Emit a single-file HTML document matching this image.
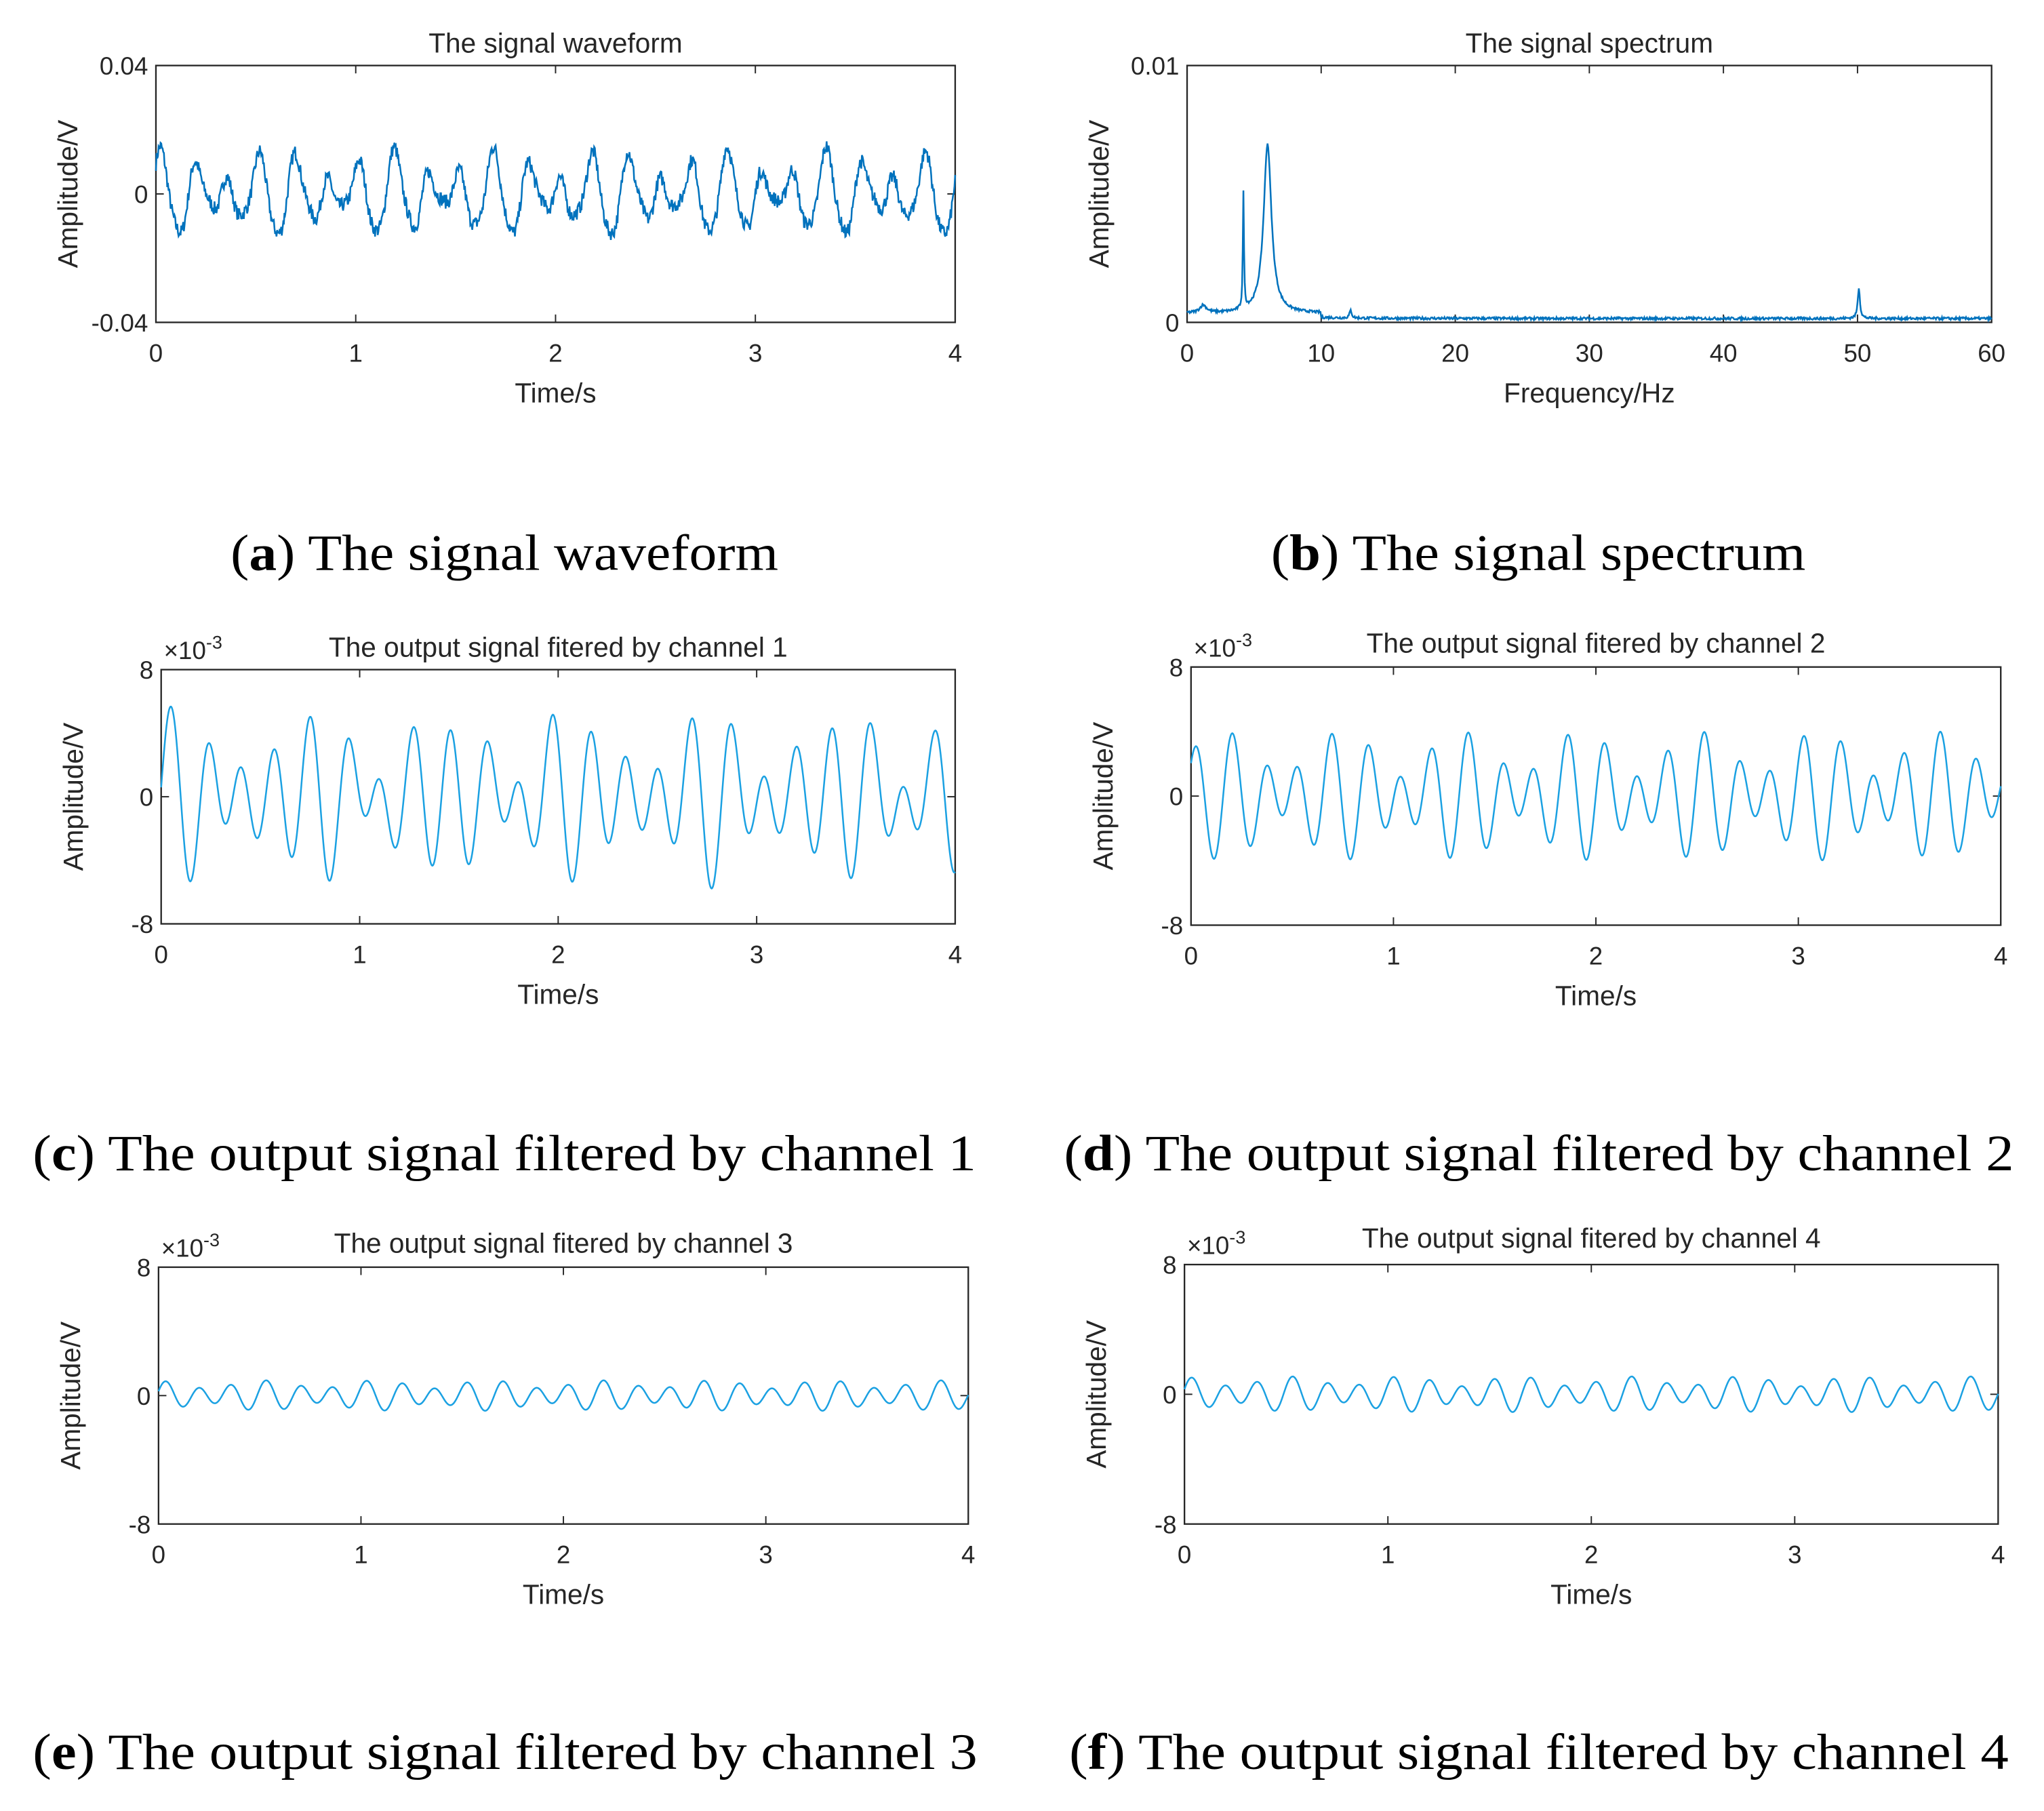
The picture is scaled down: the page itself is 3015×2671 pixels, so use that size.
<!DOCTYPE html>
<html><head><meta charset="utf-8"><style>
html,body{margin:0;padding:0;background:#fff;}
svg{display:block;}
.t{font-family:"Liberation Sans",sans-serif;fill:#262626;}
.c{font-family:"Liberation Serif",serif;fill:#000;font-size:39px;}
</style></head><body>
<svg id="s" width="3015" height="2671" viewBox="0 0 1560 1382" preserveAspectRatio="none" xmlns="http://www.w3.org/2000/svg">
<text class="c" x="176" y="435" textLength="418" lengthAdjust="spacingAndGlyphs">(<tspan font-weight="bold">a</tspan>) The signal waveform</text>
<text class="c" x="970" y="435" textLength="408" lengthAdjust="spacingAndGlyphs">(<tspan font-weight="bold">b</tspan>) The signal spectrum</text>
<text class="c" x="25" y="893" textLength="720" lengthAdjust="spacingAndGlyphs">(<tspan font-weight="bold">c</tspan>) The output signal filtered by channel 1</text>
<text class="c" x="812" y="893" textLength="725" lengthAdjust="spacingAndGlyphs">(<tspan font-weight="bold">d</tspan>) The output signal filtered by channel 2</text>
<text class="c" x="25" y="1350" textLength="721" lengthAdjust="spacingAndGlyphs">(<tspan font-weight="bold">e</tspan>) The output signal filtered by channel 3</text>
<text class="c" x="816" y="1350" textLength="717" lengthAdjust="spacingAndGlyphs">(<tspan font-weight="bold">f</tspan>) The output signal filtered by channel 4</text>
</svg>
<script>
var S=document.getElementById('s'),NS="http://www.w3.org/2000/svg";
function el(t,a,txt){var e=document.createElementNS(NS,t);for(var k in a)e.setAttribute(k,a[k]);if(txt!==undefined)e.textContent=txt;S.appendChild(e);return e;}
var seed=7;function rnd(){seed=(seed*16807)%2147483647;return seed/2147483647;}
function axes(x0,y0,x1,y1,title,ty,yt,xt,xl,exp){
 el('rect',{x:x0,y:y0,width:x1-x0,height:y1-y0,fill:'none',stroke:'#262626','stroke-width':1.2});
 el('text',{'class':'t',x:(x0+x1)/2,y:ty,'text-anchor':'middle','font-size':21},title);
 for(var i=0;i<yt.length;i++){var y=y0+(y1-y0)*i/(yt.length-1);
  el('text',{'class':'t',x:x0-6,y:y+7,'text-anchor':'end','font-size':19},yt[i]);
  if(i>0&&i<yt.length-1){el('line',{x1:x0,y1:y,x2:x0+6,y2:y,stroke:'#262626'});el('line',{x1:x1,y1:y,x2:x1-6,y2:y,stroke:'#262626'});}}
 for(var i=0;i<xt.length;i++){var x=x0+(x1-x0)*i/(xt.length-1);
  el('text',{'class':'t',x:x,y:y1+30,'text-anchor':'middle','font-size':19},xt[i]);
  if(i>0&&i<xt.length-1){el('line',{x1:x,y1:y0,x2:x,y2:y0+6,stroke:'#262626'});el('line',{x1:x,y1:y1,x2:x,y2:y1-6,stroke:'#262626'});}}
 el('text',{'class':'t',x:(x0+x1)/2,y:y1+61,'text-anchor':'middle','font-size':21},xl);
 var cy=(y0+y1)/2;
 el('text',{'class':'t',x:0,y:0,'text-anchor':'middle','font-size':21,transform:'translate('+(x0-60)+','+cy+') rotate(-90)'},'Amplitude/V');
 if(exp){var e=el('text',{'class':'t',x:x0+2,y:y0-8,'font-size':19},'\u00d710');var ts=document.createElementNS(NS,'tspan');ts.setAttribute('dy','-8');ts.setAttribute('font-size','14');ts.textContent='-3';e.appendChild(ts);}
}
function plot(x0,y0,x1,y1,f,n,lo,hi,col){var d='';for(var i=0;i<=n;i++){var u=i/n;var v=f(u);var x=x0+(x1-x0)*u;var y=y1-(y1-y0)*(v-lo)/(hi-lo);y=Math.max(y0,Math.min(y1,y));d+=(i?'L':'M')+x.toFixed(2)+' '+y.toFixed(2);}
 el('path',{d:d,fill:'none',stroke:col||'#0072bd','stroke-width':1.3});}
var P=Math.PI*2;
axes(119,50,729,246,'The signal waveform',40,['0.04','0','-0.04'],['0','1','2','3','4'],'Time/s',false);
plot(119,50,729,246,function(u){var t=u*4;return 0.0085*Math.sin(P*6*t+0.6)+0.005*Math.sin(P*4.2*t+1.2)+0.0015*Math.sin(P*12*t)+(rnd()-0.5)*0.0045;},1200,-0.04,0.04);
axes(906,50,1520,246,'The signal spectrum',40,['0.01','0'],['0','10','20','30','40','50','60'],'Frequency/Hz',false);
plot(906,50,1520,246,function(u){var f=u*60;var v=0.0001+rnd()*0.0001;
 v+=0.0066/(1+Math.pow((f-6)/0.35,2));v+=0.0045/(1+Math.pow((f-4.2)/0.05,2));v+=0.0012/(1+Math.pow((f-50.1)/0.1,2));
 v+=0.0003/(1+Math.pow((f-1.2)/0.3,2));v+=0.0003/(1+Math.pow((f-12.2)/0.1,2));if(f<10)v+=0.0002;return v;},1200,0,0.01);
axes(123,511,729,705,'The output signal fitered by channel 1',501,['8','0','-8'],['0','1','2','3','4'],'Time/s',true);
plot(123,511,729,705,function(u){var t=u*4;return 3.2*Math.sin(P*5.7*t-0.3)+1.8*Math.sin(P*4.2*t+0.5)+0.8*Math.sin(P*3.1*t+1);},1200,-8,8,'#1ba1e2');
axes(909,509,1527,706,'The output signal fitered by channel 2',498,['8','0','-8'],['0','1','2','3','4'],'Time/s',true);
plot(909,509,1527,706,function(u){var t=u*4;return 2.6*Math.sin(P*6*t+0.3)+1.4*Math.sin(P*4.3*t+2);},1200,-8,8,'#1ba1e2');
axes(121,967,739,1163,'The output signal fitered by channel 3',956,['8','0','-8'],['0','1','2','3','4'],'Time/s',true);
plot(121,967,739,1163,function(u){var t=u*4;return 0.7*Math.sin(P*6*t+0.4)+0.25*Math.sin(P*4.2*t);},1200,-8,8,'#1ba1e2');
axes(904,965,1525,1163,'The output signal fitered by channel 4',952,['8','0','-8'],['0','1','2','3','4'],'Time/s',true);
plot(904,965,1525,1163,function(u){var t=u*4;return 0.8*Math.sin(P*6*t+0.4)+0.3*Math.sin(P*4.2*t);},1200,-8,8,'#1ba1e2');
</script>
</body></html>
